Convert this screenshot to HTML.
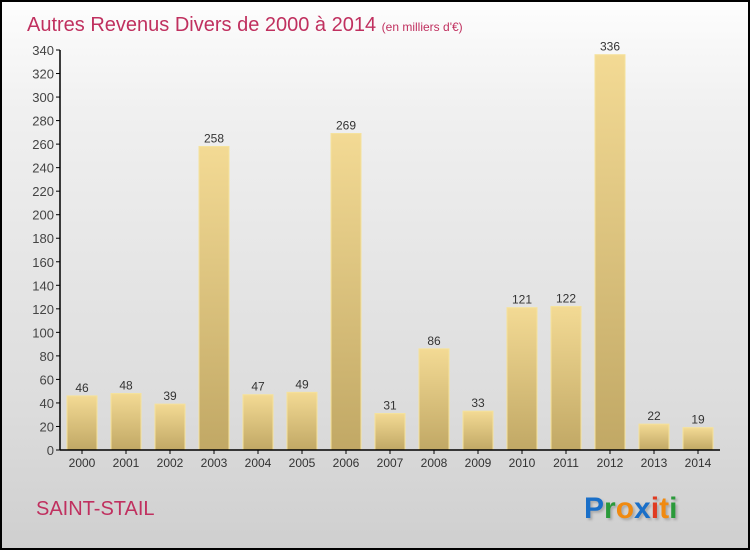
<!DOCTYPE html>
<html><head><meta charset="utf-8"><style>
body{margin:0}
#c{position:relative;width:746px;height:546px;border:2px solid #000;background:linear-gradient(#fdfdfd,#f0f0f0 20%,#dcdcdc 75%,#cfcfcf);font-family:"Liberation Sans",sans-serif;overflow:hidden}
</style></head><body>
<div id="c">
<svg id="s" width="746" height="546" style="position:absolute;left:0;top:0">
<defs><linearGradient id="g" x1="0" y1="0" x2="0" y2="1"><stop offset="0" stop-color="#f3da94"/><stop offset="1" stop-color="#c1a865"/></linearGradient></defs>
<text x="25" y="29" font-size="20" fill="#c0305f">Autres Revenus Divers de 2000 à 2014 <tspan font-size="12">(en milliers d'€)</tspan></text>
<text x="34" y="513" font-size="20" fill="#c0305f">SAINT-STAIL</text>
<text x="582" y="516" font-size="30" font-weight="bold" style="text-shadow:2px 2px 2px #aaa"><tspan fill="#1a6fc8">P</tspan><tspan fill="#2a9a3a">r</tspan><tspan fill="#f08a10">o</tspan><tspan fill="#1a6fc8">x</tspan><tspan fill="#e03a20">i</tspan><tspan fill="#f08a10">t</tspan><tspan fill="#2a9a3a">i</tspan></text>
<g id="plot"></g>
</svg>
</div>
<script>
const years=["2000","2001","2002","2003","2004","2005","2006","2007","2008","2009","2010","2011","2012","2013","2014"];
const values=[46,48,39,258,47,49,269,31,86,33,121,122,336,22,19];
const yTicks=[0,20,40,60,80,100,120,140,160,180,200,220,240,260,280,300,320,340];
const ns="http://www.w3.org/2000/svg",p=document.getElementById("plot");
const y=v=>448-v*400/340, x=i=>80+i*44;
function mk(t,a,txt){const e=document.createElementNS(ns,t);for(const k in a)e.setAttribute(k,a[k]);if(txt!=null)e.textContent=txt;p.appendChild(e);return e;}
yTicks.forEach(v=>{
 const l=mk("line",{x1:54,x2:58,y1:y(v),y2:y(v),stroke:"#000"});
 
 
 const t=mk("text",{x:52,y:y(v)+5,"text-anchor":"end","font-size":13,fill:"#444"},v);
 
 
});
values.forEach((v,i)=>{
 const r=mk("rect",{x:x(i)-15,y:y(v),width:30,height:448-y(v),fill:"url(#g)",stroke:"#f5e29c","stroke-width":1});
 
 
 const t=mk("text",{x:x(i),y:y(v)-4,"text-anchor":"middle","font-size":12,fill:"#333"},v);
 
 
 const tk=mk("line",{x1:x(i),x2:x(i),y1:448,y2:452,stroke:"#000"});
 
 
 const xl=mk("text",{x:x(i),y:465,"text-anchor":"middle","font-size":12,fill:"#333"},years[i]);
 
 
});
const ya=mk("line",{x1:58,x2:58,y1:y(340),y2:448,stroke:"#000","stroke-width":1.5});


const xa=mk("line",{x1:58,x2:718,y1:448,y2:448,stroke:"#000","stroke-width":1.5});


</script>
</body></html>
